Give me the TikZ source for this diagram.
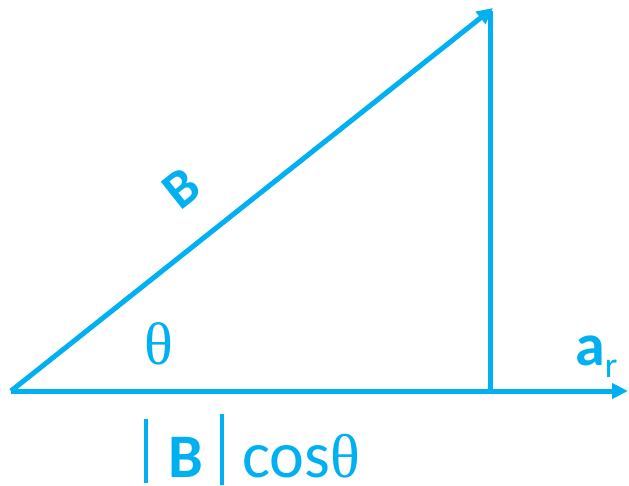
\documentclass[tikz,border=0pt]{standalone}
\usepackage{fontspec}
\setmainfont{Carlito}
\newfontfamily\thetafont{Liberation Serif}
\usetikzlibrary{arrows.meta}
\definecolor{vecblue}{HTML}{00B0F0}
\begin{document}
\begin{tikzpicture}[x=1pt, y=-1pt, >={Triangle[length=16pt, width=15pt]},
    vec/.style={line width=5pt, vecblue},
    lbl/.style={text=vecblue, inner sep=0pt},
    bar/.style={fill=vecblue, draw=none}]
    \useasboundingbox (0,0) rectangle (629,485);

    % Corners of the triangle
    \coordinate (O) at (11,391);
    \coordinate (P) at (493,8);
    \coordinate (F) at (490,391);
    \coordinate (T) at (490,11);
    \coordinate (E) at (628,391);

    % The vector B and its projection
    \draw[vec, ->] (O) -- (P);
    \draw[vec] (F) -- (T);
    \draw[vec, ->] (O) -- (E);

    % Labels
    \node[lbl, rotate=38.4, font=\fontsize{54}{54}\selectfont\bfseries] (Blbl) at (181,188) {B};
    \node[lbl, font=\thetafont\fontsize{60}{60}\selectfont] (theta) at (159,344) {θ};
    \node[lbl, font=\fontsize{60}{60}\selectfont, anchor=base west] (ar) at (575,365)
        {\textbf{a}\raisebox{-12pt}{\fontsize{36}{36}\selectfont r}};

    % |B| cos theta
    \fill[bar] (144,419) rectangle (148,483);
    \node[lbl, text depth=0pt, font=\fontsize{62}{62}\selectfont\bfseries, anchor=base west] (Bnorm) at (168,477) {B};
    \fill[bar] (220,414) rectangle (224,485);
    \node[lbl, text depth=0pt, font=\fontsize{66}{66}\selectfont, anchor=base west] (cos) at (242,477)
        {cos{\thetafont\fontsize{62}{62}\selectfont θ}};
\end{tikzpicture}
\end{document}
